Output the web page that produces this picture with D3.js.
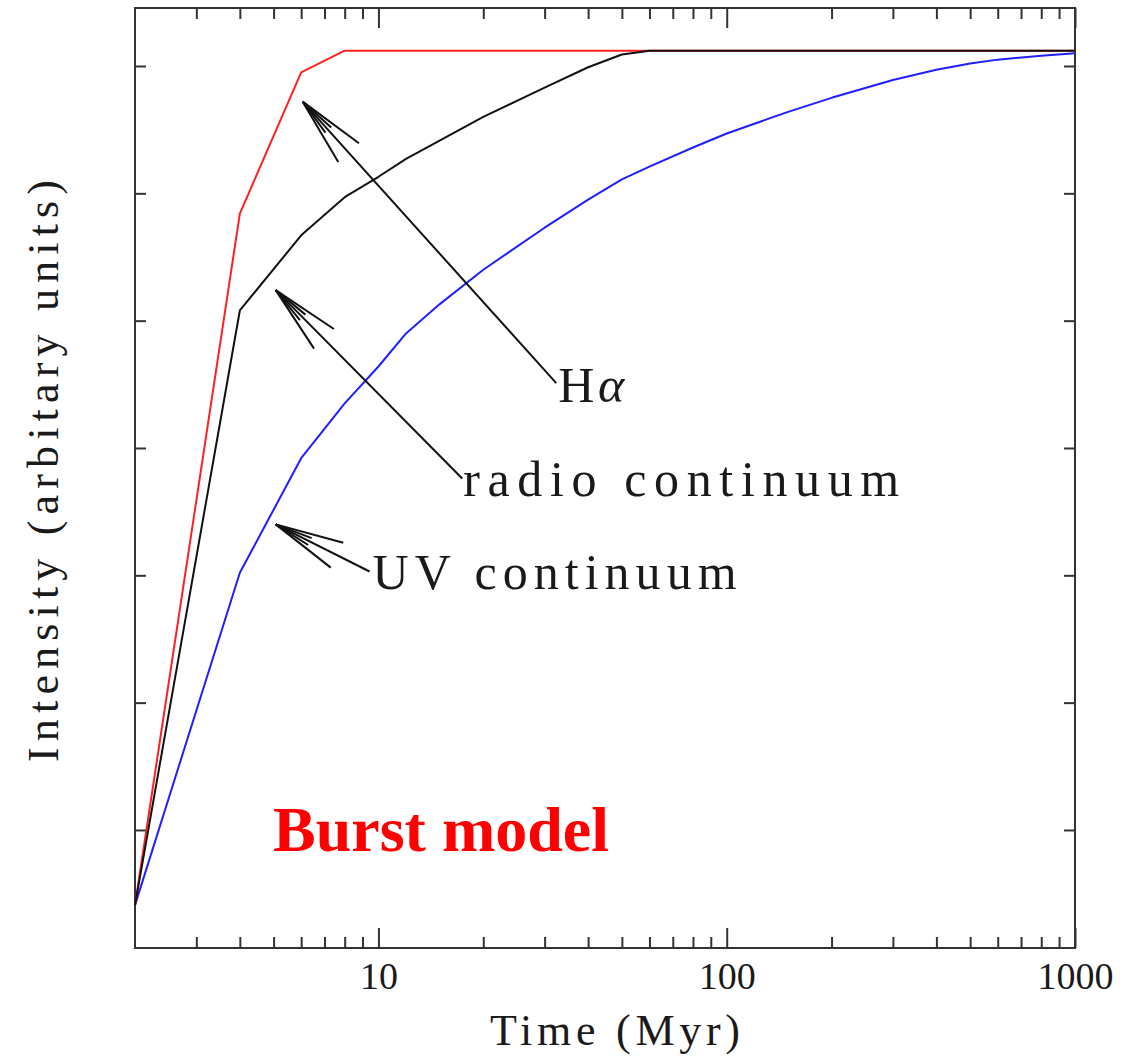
<!DOCTYPE html>
<html>
<head>
<meta charset="utf-8">
<script src="https://cdn.jsdelivr.net/npm/d3@7"></script>
<style>
  body { margin: 0; background: #fff; }
  svg text { font-family: "Liberation Serif", "DejaVu Serif", serif; fill: #1a1a1a; }
</style>
</head>
<body>
<svg id="chart" width="1127" height="1060"></svg>
<script>
// model times (Myr) and intensities (arbitrary units)
const halpha_t = [2, 4, 6, 8, 1000];
const halpha_v = [0.41, 5.84, 6.95, 7.12, 7.12];

const radio_t = [2, 4, 6, 8, 10, 12, 20, 30, 40, 50, 60, 1000];
const radio_v = [0.41, 5.08, 5.67, 5.97, 6.13, 6.27, 6.60, 6.83, 6.99, 7.09, 7.12, 7.12];

const uv_t = [2, 4, 6, 8, 10, 12, 15, 20, 30, 40, 50, 60, 80, 100, 150, 200, 300, 400, 500, 600, 800, 1000];
const uv_v = [0.41, 3.02, 3.92, 4.35, 4.64, 4.90, 5.13, 5.40, 5.73, 5.95, 6.11, 6.21, 6.36, 6.47, 6.64, 6.75, 6.89, 6.97, 7.02, 7.05, 7.08, 7.10];

const x_major = [10, 100, 1000];
const x_minor = [3, 4, 5, 6, 7, 8, 9, 20, 30, 40, 50, 60, 70, 80, 90, 200, 300, 400, 500, 600, 700, 800, 900];
const y_ticks = [1, 2, 3, 4, 5, 6, 7];

// annotation labels and arrows, [time, intensity]
const labels = ["Hα", "radio continuum", "UV continuum"];
const arrow_tips = [[6.06, 6.72], [5.07, 5.24], [5.07, 3.40]];
const arrow_tails = [[32.4, 4.51], [17.4, 3.76], [9.43, 3.03]];

const svg = d3.select("#chart");
const m_left = 135, m_right = 1075, m_top = 8, m_bottom = 948;

const x = d3.scaleLog().domain([2, 1000]).range([m_left, m_right]);
const y = d3.scaleLinear().domain([0.073, 7.4555]).range([m_bottom, m_top]);

const frame_color = "#333";

// minor + major ticks on all four sides, pointing inward
function tickAxis(axis, values, size, pos, labelled) {
  const g = svg.append("g")
               .attr("transform", pos)
               .call(axis.tickValues(values).tickSize(size).tickPadding(14)
                         .tickFormat(labelled ? d3.format("d") : ""));
  g.select(".domain").remove();
  g.selectAll(".tick line").attr("stroke", frame_color).attr("stroke-width", 2);
  return g;
}

const bottomMajor = tickAxis(d3.axisBottom(x), x_major, -20, `translate(0,${m_bottom})`, true);
bottomMajor.selectAll("text")
           .attr("font-size", 38)
           .attr("font-family", "Liberation Serif")
           .attr("fill", "#1a1a1a");
tickAxis(d3.axisBottom(x), x_minor, -11, `translate(0,${m_bottom})`, false);
tickAxis(d3.axisTop(x), x_major, -20, `translate(0,${m_top})`, false);
tickAxis(d3.axisTop(x), x_minor, -11, `translate(0,${m_top})`, false);
tickAxis(d3.axisLeft(y), y_ticks, -11, `translate(${m_left},0)`, false);
tickAxis(d3.axisRight(y), y_ticks, -11, `translate(${m_right},0)`, false);

svg.append("rect")
   .attr("x", m_left).attr("y", m_top)
   .attr("width", m_right - m_left).attr("height", m_bottom - m_top)
   .attr("fill", "none")
   .attr("stroke", frame_color)
   .attr("stroke-width", 2);

const line = d3.line()
               .x(d => x(d[0]))
               .y(d => y(d[1]));

function drawSeries(ts, vs, colour) {
  svg.append("path")
     .datum(ts.map((t, i) => [t, vs[i]]))
     .attr("d", line)
     .attr("fill", "none")
     .attr("stroke", colour)
     .attr("stroke-width", 2)
     .attr("stroke-linejoin", "round");
}

drawSeries(uv_t, uv_v, "#1f1fff");
drawSeries(halpha_t, halpha_v, "#ff2020");
drawSeries(radio_t, radio_v, "#111");

// arrows with open two-barb heads
const barb_len = 70, barb_angle = 11.5 * Math.PI / 180;
arrow_tips.forEach(function(tip, i) {
  const x1 = x(tip[0]), y1 = y(tip[1]);
  const x2 = x(arrow_tails[i][0]), y2 = y(arrow_tails[i][1]);
  const ang = Math.atan2(y2 - y1, x2 - x1);
  const g = svg.append("g").attr("stroke", "#111").attr("stroke-width", 2).attr("fill", "none");
  g.append("line").attr("x1", x1).attr("y1", y1).attr("x2", x2).attr("y2", y2);
  [-1, 1].forEach(function(s) {
    g.append("line")
     .attr("x1", x1).attr("y1", y1)
     .attr("x2", x1 + barb_len * Math.cos(ang + s * barb_angle))
     .attr("y2", y1 + barb_len * Math.sin(ang + s * barb_angle));
    g.append("line")
     .attr("x1", x1).attr("y1", y1)
     .attr("x2", x1 + barb_len * 0.55 * Math.cos(ang + s * barb_angle * 0.5))
     .attr("y2", y1 + barb_len * 0.55 * Math.sin(ang + s * barb_angle * 0.5));
  });
});

// annotation text, placed just beyond each arrow tail
const label_pos = [[x(arrow_tails[0][0]) + 2, 402, 66], [x(arrow_tails[1][0]) + 1, 496, 436], [x(arrow_tails[2][0]) + 3, 589, 364]];
labels.forEach(function(lbl, i) {
  const t = svg.append("text")
               .attr("x", label_pos[i][0])
               .attr("y", label_pos[i][1])
               .attr("font-size", 50)
               .attr("textLength", label_pos[i][2])
               .attr("lengthAdjust", "spacing");
  if (lbl === "Hα") {
    t.append("tspan").text("H");
    t.append("tspan").attr("font-style", "italic").text("α");
  } else {
    t.text(lbl);
  }
});

svg.append("text")
   .attr("x", 273).attr("y", 851)
   .attr("font-family", "Liberation Serif")
   .attr("font-weight", "bold")
   .attr("font-size", 64)
   .style("fill", "#ff0000")
   .text("Burst model");

svg.append("text")
   .attr("x", 490).attr("y", 1045)
   .attr("font-size", 44)
   .attr("textLength", 250)
   .attr("lengthAdjust", "spacing")
   .text("Time (Myr)");

svg.append("text")
   .attr("transform", "translate(58,762) rotate(-90)")
   .attr("font-size", 44)
   .attr("textLength", 582)
   .attr("lengthAdjust", "spacing")
   .text("Intensity (arbitary units)");
</script>
</body>
</html>
